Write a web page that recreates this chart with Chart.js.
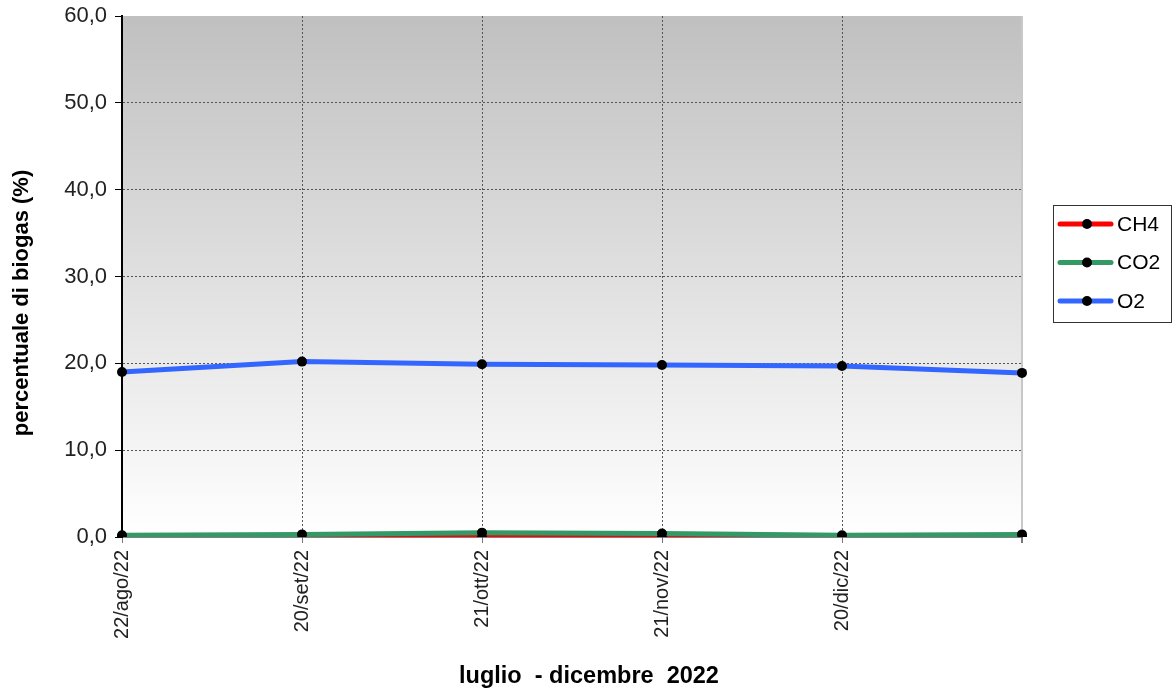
<!DOCTYPE html>
<html lang="it">
<head>
    <title>Biogas</title>
    <script src="https://cdn.jsdelivr.net/npm/chart.js"></script>
    <style>
        body { margin: 0; background: #fff; }
    </style>
</head>
<body>
    <canvas id="myChart" width="1173" height="695"></canvas>
    <script>
        // dati (luglio - dicembre 2022)
        const labels = ['22/ago/22', '20/set/22', '21/ott/22', '21/nov/22', '20/dic/22', ''];
        const ch4 = [0.0, 0.0, 0.0, 0.0, 0.0, 0.0];
        const co2 = [0.2, 0.3, 0.5, 0.4, 0.2, 0.3];
        const o2 = [19.0, 20.2, 19.9, 19.8, 19.7, 18.9];
        const seriesNames = ['CH4', 'CO2', 'O2'];
        const seriesColors = ['#ff0000', '#339966', '#3366ff'];
        const xTitle = 'luglio  - dicembre  2022';
        const yTitle = 'percentuale di biogas (%)';

        const FONT = "'Liberation Sans', Arial, sans-serif";

        // sfondo grigio sfumato nell'area del grafico
        const bgPlugin = {
            id: 'bgGradient',
            beforeDraw(chart) {
                const { ctx, chartArea: a } = chart;
                const g = ctx.createLinearGradient(0, a.top, 0, a.bottom);
                g.addColorStop(0, '#c0c0c0');
                g.addColorStop(1, '#ffffff');
                ctx.save();
                ctx.fillStyle = g;
                ctx.fillRect(a.left, a.top, a.right - a.left, a.bottom - a.top);
                ctx.restore();
            }
        };

        // titoli degli assi e legenda con riquadro
        const legendPlugin = {
            id: 'boxLegend',
            afterDraw(chart) {
                const ctx = chart.ctx;
                ctx.save();
                ctx.fillStyle = '#000';
                ctx.textAlign = 'center';
                ctx.textBaseline = 'middle';
                ctx.font = 'bold 23.5px ' + FONT;
                ctx.fillText(xTitle, 589, 677);
                ctx.save();
                ctx.translate(22, 303);
                ctx.rotate(-Math.PI / 2);
                ctx.font = 'bold 22px ' + FONT;
                ctx.fillText(yTitle, 0, 0);
                ctx.restore();

                const x0 = 1053, y0 = 205, w = 118, h = 117;
                ctx.strokeStyle = '#333';
                ctx.lineWidth = 1;
                ctx.strokeRect(x0 + 0.5, y0 + 0.5, w, h);
                ctx.font = '21px ' + FONT;
                ctx.textAlign = 'left';
                chart.data.datasets.forEach((ds, i) => {
                    const y = 224 + i * 38.5;
                    ctx.strokeStyle = ds.borderColor;
                    ctx.lineWidth = 5;
                    ctx.lineCap = 'round';
                    ctx.beginPath();
                    ctx.moveTo(1060, y);
                    ctx.lineTo(1111, y);
                    ctx.stroke();
                    ctx.fillStyle = '#000';
                    ctx.beginPath();
                    ctx.arc(1087, y, 5, 0, Math.PI * 2);
                    ctx.fill();
                    ctx.fillText(ds.label, 1117, y + 1);
                });
                ctx.restore();
            }
        };

        const ctx = document.getElementById('myChart').getContext('2d');
        const chart = new Chart(ctx, {
            type: 'line',
            data: {
                labels: labels,
                datasets: [ch4, co2, o2].map((d, i) => ({
                    label: seriesNames[i],
                    data: d,
                    borderColor: seriesColors[i],
                    backgroundColor: '#000',
                    borderWidth: 5,
                    pointRadius: 5,
                    pointBackgroundColor: '#000',
                    pointBorderColor: '#000',
                    pointBorderWidth: 0,
                    tension: 0,
                    order: 3 - i
                }))
            },
            options: {
                responsive: false,
                animation: false,
                layout: { padding: { top: 16, right: 151, left: 0, bottom: 0 } },
                plugins: {
                    legend: { display: false },
                    tooltip: { enabled: false }
                },
                scales: {
                    x: {
                        offset: false,
                        afterFit(scale) {
                            scale.height = 158;
                            scale.paddingLeft = 0;
                            scale.paddingRight = 0;
                        },
                        ticks: {
                            autoSkip: false,
                            minRotation: 90,
                            maxRotation: 90,
                            padding: 7,
                            color: '#222',
                            font: { family: FONT, size: 20 }
                        },
                        grid: {
                            color: c => c.index === 0 ? 'rgba(0,0,0,0)' : (c.index === labels.length - 1 ? '#c8c8c8' : '#555'),
                            lineWidth: c => c.index === labels.length - 1 ? 2 : 1,
                            tickLength: 6,
                            tickColor: '#777',
                            tickBorderDash: []
                        },
                        border: {
                            color: '#000',
                            width: 1.5,
                            dash: c => c.index === labels.length - 1 ? [] : [2, 2]
                        }
                    },
                    y: {
                        min: 0,
                        max: 60,
                        afterFit(scale) {
                            scale.width = 122;
                            scale.paddingTop = 0;
                            scale.paddingBottom = 0;
                        },
                        ticks: {
                            stepSize: 10,
                            padding: 8,
                            color: '#222',
                            font: { family: FONT, size: 22 },
                            callback: v => v.toFixed(1).replace('.', ',')
                        },
                        grid: {
                            color: c => (c.tick && (c.tick.value === 60 || c.tick.value === 0)) ? 'rgba(0,0,0,0)' : '#555',
                            lineWidth: 1,
                            tickLength: 7,
                            tickColor: '#000',
                            tickBorderDash: []
                        },
                        border: {
                            color: '#000',
                            width: 2,
                            dash: [2, 2]
                        }
                    }
                }
            },
            plugins: [bgPlugin, legendPlugin]
        });
    </script>
</body>
</html>
